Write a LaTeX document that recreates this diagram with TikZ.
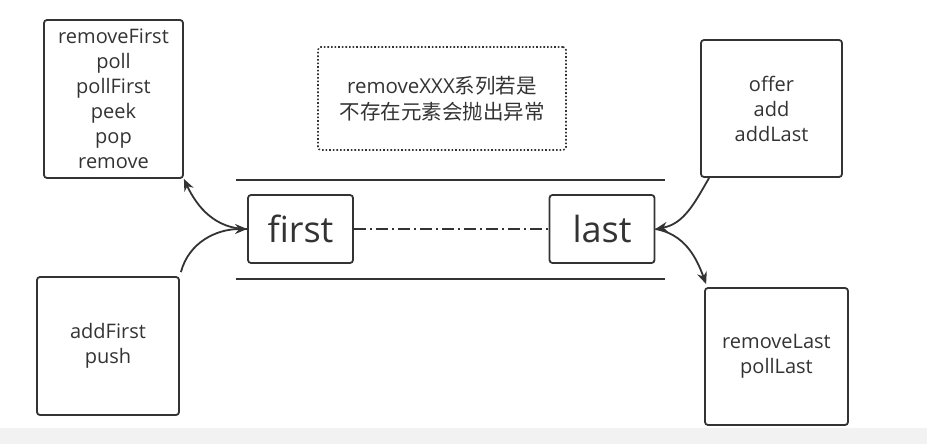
\documentclass[tikz,border=0pt]{standalone}
\usepackage{fontspec}
\setmainfont{Open Sans}
\newfontfamily\cjk{Noto Sans CJK SC}
\usetikzlibrary{arrows.meta}
\definecolor{ink}{HTML}{333333}
\definecolor{strip}{HTML}{F2F2F2}
\begin{document}
\begin{tikzpicture}[x=1pt, y=1pt, line width=1.8pt, draw=ink, text=ink,
  opbox/.style={draw=ink, rounded corners=3pt, align=center, inner sep=0pt, font=\fontsize{20}{25}\selectfont},
  endbox/.style={draw=ink, rounded corners=3pt, inner sep=0pt, minimum width=105pt, minimum height=68pt, font=\fontsize{36}{40}\selectfont},
  rail/.style={draw=ink, line width=1.5pt},
  flow/.style={draw=ink, -{Stealth[length=12pt, width=10pt]}}]
  \useasboundingbox (0,0) rectangle (927,-444);
  \fill[strip] (0,-428) rectangle (927,-444);
  % deque ends
  \node[endbox] (first) at (300.5,-229) {first};
  \node[endbox] (last) at (602,-229) {last};
  \draw[rail] (236,-180) -- (665,-180);
  \draw[rail] (236,-279) -- (665,-279);
  \draw[line width=1.5pt, dash pattern=on 12pt off 4pt on 2pt off 4pt] (first) -- (last);
  % operation boxes
  \node[opbox, minimum width=139pt, minimum height=158pt] (popside) at (113.5,-99) {removeFirst\\poll\\pollFirst\\peek\\pop\\remove};
  \node[opbox, minimum width=142pt, minimum height=138pt] (pushside) at (108,-346) {addFirst\\push};
  \node[opbox, minimum width=141pt, minimum height=137pt] (offerside) at (771.5,-108.5) {offer\\add\\addLast};
  \node[opbox, minimum width=143pt, minimum height=137pt] (tailside) at (776.5,-356.5) {removeLast\\pollLast};
  \node[opbox, dotted, line width=1.6pt, minimum width=248pt, minimum height=103pt, font=\fontsize{20.5}{26}\selectfont] (note) at (442,-98.5) {removeXXX{\cjk 系列若是}\\{\cjk 不存在元素会抛出异常}};
  % connectors
  \draw[flow] ([shift={(1,4)}]pushside.north east) to[out=75, in=180] (first.west);
  \draw[flow] (first.west) to[out=180, in=-65] (popside.south east);
  \draw[flow] ([shift={(9,0)}]offerside.south west) to[out=-120, in=10] (last.east);
  \draw[flow] (last.east) to[out=-10, in=110] ([shift={(2,3)}]tailside.north west);
\end{tikzpicture}
\end{document}
